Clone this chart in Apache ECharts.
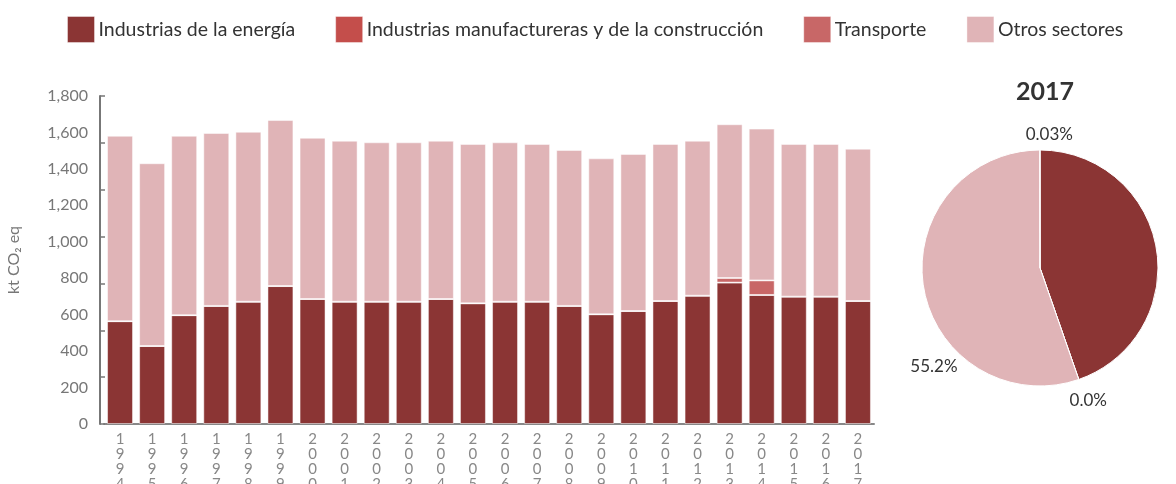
<!DOCTYPE html>
<html>
<head>
<meta charset="utf-8">
<script src="https://cdn.jsdelivr.net/npm/echarts@6/dist/echarts.min.js"></script>
<style>
  html, body { margin: 0; padding: 0; background: #fff; }
  #chart { width: 1176px; height: 484px; }
</style>
</head>
<body>
<div id="chart"></div>
<script>
// datos (kt CO2 eq)
const years = ['1994', '1995', '1996', '1997', '1998', '1999', '2000', '2001', '2002', '2003', '2004', '2005',
  '2006', '2007', '2008', '2009', '2010', '2011', '2012', '2013', '2014', '2015', '2016', '2017']
const energia = [564, 428, 597, 648, 671, 757, 686, 671, 671, 671, 686, 662,
  671, 671, 648, 602, 620, 675, 704, 776, 708, 699, 699, 675]
const manufactureras = [0, 0, 0, 0, 0, 0, 0, 0, 0, 0, 0, 0,
  0, 0, 0, 0, 0, 0, 0, 0, 0, 0, 0, 0]
const transporte = [0, 0, 0, 0, 0, 0, 0, 0, 0, 0, 0, 0,
  0, 0, 0, 0, 0, 0, 0, 25, 80, 0, 0, 0]
const otros = [1018, 1003, 985, 949, 933, 911, 885, 884, 875, 875, 869, 875,
  875, 866, 856, 856, 862, 862, 851, 844, 833, 838, 838, 836]

const seriesNames = ['Industrias de la energía', 'Industrias manufactureras y de la construcción', 'Transporte', 'Otros sectores']
const colors = ['#8B3534', '#C44E4B', '#C86767', '#E0B4B7']

// pie 2017 (%)
const pieNames = ['Industrias de la energía', 'Industrias manufactureras y de la construcción', 'Otros sectores', 'Transporte']
const pieValues = [44.6, 0.0, 55.2, 0.03]
const pieLabels = ['44.6%', '0.0%', '55.2%', '0.03%']

const FONT = 'Lato, "Open Sans", sans-serif'
const pieCenter = [1040, 268]
// posicion de las etiquetas del pie (angulo desde arriba, distancia al centro)
const labelAngle = [47, 160, 227, 4]
const labelDist = [150, 141, 145, 134]

const chart = echarts.init(document.getElementById('chart'))

const barSeries = [energia, manufactureras, transporte, otros].map((data, i) => {
  return {
    name: seriesNames[i],
    type: 'bar',
    stack: 'total',
    barWidth: '81%',
    data: data,
    itemStyle: {
      color: colors[i],
      borderColor: 'rgba(255,255,255,0.5)',
      borderWidth: 1
    }
  }
})

const option = {
  animation: false,
  textStyle: { fontFamily: FONT },
  color: colors,
  legend: {
    data: seriesNames,
    left: 67,
    top: 16,
    padding: 0,
    itemWidth: 27,
    itemHeight: 26,
    itemGap: 40,
    icon: 'rect',
    itemStyle: { borderColor: 'rgba(255,255,255,0.4)', borderWidth: 1 },
    textStyle: { fontSize: 19.5, color: '#333', fontFamily: FONT, padding: [0, 0, 0, -1] }
  },
  title: {
    text: '2017',
    left: 1040,
    top: 74,
    textAlign: 'center',
    textStyle: { fontSize: 25, fontWeight: 'bold', color: '#333', fontFamily: FONT }
  },
  grid: {
    left: 104,
    top: 96,
    width: 770,
    height: 328,
    outerBoundsMode: 'none'
  },
  xAxis: {
    type: 'category',
    data: years,
    axisLine: { lineStyle: { color: '#888', width: 2 } },
    axisTick: { show: false },
    axisLabel: {
      color: '#888',
      fontSize: 15,
      lineHeight: 15,
      margin: 8,
      formatter: v => v.split('').join('\n')
    }
  },
  yAxis: [
    {
      type: 'value',
      min: 0,
      max: 1800,
      interval: 200,
      offset: 4,
      name: 'kt CO₂ eq',
      nameLocation: 'middle',
      nameGap: 78,
      nameTextStyle: { color: '#777', fontSize: 16, fontFamily: FONT },
      axisLine: { show: true, lineStyle: { color: '#777', width: 2 } },
      axisTick: { show: false },
      splitLine: { show: false },
      axisLabel: {
        color: '#777',
        fontSize: 16,
        margin: 12,
        formatter: v => v.toLocaleString('en-US')
      }
    },
    {
      // solo las marcas del eje
      type: 'value',
      position: 'left',
      offset: 4,
      min: 0,
      max: 7,
      interval: 1,
      axisLine: { show: false },
      axisTick: { show: true, inside: true, length: 5, lineStyle: { color: '#777', width: 1.5 } },
      axisLabel: { show: false },
      splitLine: { show: false }
    }
  ],
  series: barSeries.concat([
    {
      type: 'pie',
      center: pieCenter,
      radius: 118,
      startAngle: 90,
      clockwise: true,
      legendHoverLink: false,
      data: pieNames.map((n, i) => ({
        name: n,
        value: pieValues[i],
        itemStyle: { color: colors[seriesNames.indexOf(n)] }
      })),
      itemStyle: { borderColor: '#fff', borderWidth: 1 },
      label: {
        show: true,
        position: 'outside',
        color: '#333',
        fontSize: 17,
        fontFamily: FONT,
        formatter: p => pieLabels[p.dataIndex]
      },
      labelLine: { show: false },
      labelLayout: p => {
        const a = labelAngle[p.dataIndex] * Math.PI / 180
        return {
          x: pieCenter[0] + labelDist[p.dataIndex] * Math.sin(a),
          y: pieCenter[1] - labelDist[p.dataIndex] * Math.cos(a),
          align: 'center',
          verticalAlign: 'middle'
        }
      }
    }
  ])
}

chart.setOption(option)
</script>
</body>
</html>
